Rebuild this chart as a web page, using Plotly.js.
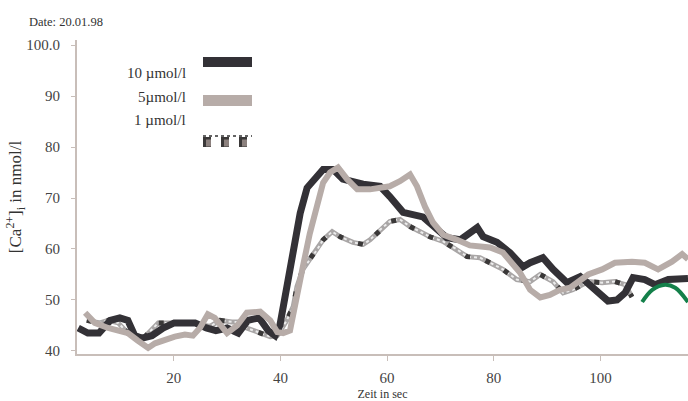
<!DOCTYPE html>
<html><head><meta charset="utf-8">
<script src="https://cdn.plot.ly/plotly-3.0.1.min.js"></script>
<style>html,body{margin:0;padding:0;background:#fff}#chart{width:688px;height:401px}</style>
</head><body><div id="chart"></div>
<script>
// 10 µmol/l
const x10 = [2.1,3.9,6.0,8.1,9.9,11.4,12.7,14.1,15.9,18.0,20.1,21.9,24.0,26.1,27.9,30.0,32.1,33.9,36.0,37.7,39.0,39.9,41.2,41.8,43.7,45.0,46.9,48.0,49.9,51.7,55.5,58.7,60.5,63.0,66.7,68.6,71.2,73.7,75.5,76.9,78.0,80.6,83.0,85.5,86.8,89.2,91.1,93.7,96.2,99.0,101.4,103.1,104.6,106.1,108.3,110.2,112.7,116.4];
const y10 = [44.5,43.5,43.5,46,46.5,46,43,42.5,43,44.5,45.5,45.5,45.5,44.5,44,44.5,43.5,46,46.5,44,43,45,52,56,67,72,74.6,75.6,75.6,73.7,72.7,72.3,70.3,67.2,66.3,64.4,62.2,61.8,63.4,64.2,62.4,61.3,59.3,56.5,57.3,58.3,56,53.4,54.6,52,49.8,50,51.4,54.4,54,53,54,54.2];
// 5 µmol/l
const x5 = [3.4,5.2,7.7,10.3,11.4,13.3,15.2,16.5,17.8,20.2,22.1,23.6,24.9,26.4,27.7,30.0,31.9,33.7,36.2,38.1,39.4,40.5,41.8,43.1,44.2,45.5,46.9,48.0,49.3,50.8,52.5,54.4,56.8,60.5,62.4,64.3,65.6,67.1,68.6,70.5,73.1,75.5,79.3,81.7,84.9,86.8,88.7,90.5,92.4,94.3,97.7,100.3,102.7,105.9,108.3,110.8,113.4,115.3,116.4];
const y5 = [47.5,45.5,44.5,44,43.5,42,40.6,41.5,42,42.8,43.2,43,44.5,47.2,46.5,43.5,45,47.5,47.7,46,43.7,43.5,44,51.4,56.5,63,69,73,75,76,73.7,71.7,71.7,72.3,73.3,74.6,72.3,68.3,65.2,62.8,61.8,60.7,60.3,59.3,55.4,52,50.5,51,52,52.4,55,56,57.3,57.5,57.3,56,57.5,59,58];
// 1 µmol/l
const x1 = [3.7,6.2,7.7,9.6,11.4,12.7,14.6,17.1,20.2,23.6,26.8,28.7,30.9,32.4,33.7,35.6,38.1,39.4,40.0,41.2,42.4,43.1,44.2,45.5,46.9,48.0,49.7,51.2,53.6,55.5,56.8,58.7,60.5,62.4,64.3,66.2,68.0,70.5,73.1,75.0,77.4,79.3,81.7,84.3,86.8,88.7,91.1,93.0,94.8,97.7,100.3,102.7,104.6,105.9];
const y1 = [46,45.5,46,45.5,43.5,42.8,42.8,45.5,45.5,45.5,44.8,46,45.7,45.7,44.5,43.7,42.8,43,44,46,48.7,52.6,56,57.9,59.9,61.8,63.4,62.4,61.3,60.9,61.8,63.8,65.4,65.8,64.4,63.4,62.4,61.5,59.9,58.5,58.3,57.3,56,54,53.6,55,53.6,51.4,52,53.6,53.4,53.6,53,50.6];
// unlabelled green trace
const xg = [107.8,109.7,112.1,114.0,116.4];
const yg = [49.6,52,53,52.4,49.6];

const yTicks = [40,50,60,70,80,90,100];
const yTickText = ['40','50','60','70','80','90','100.0'];
const xTicks = [20,40,60,80,100];
const seriesNames = ['10 \u00b5mol/l','5\u00b5mol/l','1 \u00b5mol/l'];
const dateText = 'Date: 20.01.98';

const serif = 'Liberation Serif, Times New Roman, serif';
const traces = [
  {x:x1,y:y1,mode:'lines',line:{color:'#a9a6a6',width:5},showlegend:false,hoverinfo:'skip'},
  {x:x1,y:y1,mode:'lines',line:{color:'#ececec',width:2,dash:'dot'},showlegend:false,hoverinfo:'skip'},
  {x:x1,y:y1,mode:'lines',line:{color:'#3a3838',width:5,dash:'5px,16px'},name:seriesNames[2],showlegend:false},
  {x:x10,y:y10,mode:'lines',line:{color:'#333136',width:7},name:seriesNames[0],showlegend:false},
  {x:x5,y:y5,mode:'lines',line:{color:'#b7aca8',width:6},name:seriesNames[1],showlegend:false},
  {x:xg,y:yg,mode:'lines',line:{color:'#14804a',width:4,shape:'spline'},showlegend:false}
];

const px = v => (v-77)/611, py = v => (354-v)/314;
const layout = {
  width:688,height:401,
  margin:{l:77,r:0,t:40,b:47},
  paper_bgcolor:'#fff',plot_bgcolor:'#fff',
  font:{family:serif,color:'#444',size:14},
  xaxis:{range:[1.87,116.4],tickvals:xTicks,ticks:'outside',ticklen:5,tickcolor:'#c8beb9',
    showline:true,linecolor:'#c8beb9',linewidth:2,showgrid:false,zeroline:false,ticklabelstandoff:4,
    tickfont:{family:serif,size:15,color:'#444'},
    title:{text:'Zeit in sec',font:{family:serif,size:12,color:'#333'},standoff:6}},
  yaxis:{range:[39.4,101],tickvals:yTicks,ticktext:yTickText,ticks:'outside',ticklen:4,tickcolor:'#c8beb9',
    showline:true,linecolor:'#c8beb9',linewidth:2,showgrid:false,zeroline:false,ticklabelstandoff:8,
    tickfont:{family:serif,size:15,color:'#444'},
    title:{text:'[Ca<sup>2+</sup>]<sub>i</sub> in nmol/l',font:{family:serif,size:17,color:'#333'},standoff:0}},
  annotations:[
    {xref:'paper',yref:'paper',x:px(27),y:py(22),xanchor:'left',yanchor:'middle',text:dateText,showarrow:false,font:{family:serif,size:12.5,color:'#333'}},
    {xref:'paper',yref:'paper',x:px(188),y:py(73),xanchor:'right',yanchor:'middle',text:seriesNames[0],showarrow:false,font:{family:serif,size:15,color:'#333'}},
    {xref:'paper',yref:'paper',x:px(188),y:py(97),xanchor:'right',yanchor:'middle',text:seriesNames[1],showarrow:false,font:{family:serif,size:15,color:'#333'}},
    {xref:'paper',yref:'paper',x:px(188),y:py(120),xanchor:'right',yanchor:'middle',text:seriesNames[2],showarrow:false,font:{family:serif,size:15,color:'#333'}}
  ],
  shapes:[
    {type:'rect',xref:'paper',yref:'paper',x0:px(203),x1:px(252),y0:py(67),y1:py(57),fillcolor:'#333136',line:{width:0}},
    {type:'rect',xref:'paper',yref:'paper',x0:px(203),x1:px(252),y0:py(106),y1:py(95),fillcolor:'#b7aca8',line:{width:0}},
    {type:'line',xref:'paper',yref:'paper',x0:px(203),x1:px(252),y0:py(142),y1:py(142),line:{color:'#3a3838',width:10,dash:'8px,10px'}},
    {type:'line',xref:'paper',yref:'paper',x0:px(206),x1:px(249),y0:py(143),y1:py(143),line:{color:'#8c817e',width:7,dash:'5px,13px'}},
    {type:'line',xref:'paper',yref:'paper',x0:px(203),x1:px(252),y0:py(136),y1:py(136),line:{color:'#333',width:1.5,dash:'dot'}}
  ]
};
Plotly.newPlot('chart',traces,layout,{staticPlot:true,displayModeBar:false});
</script></body></html>
